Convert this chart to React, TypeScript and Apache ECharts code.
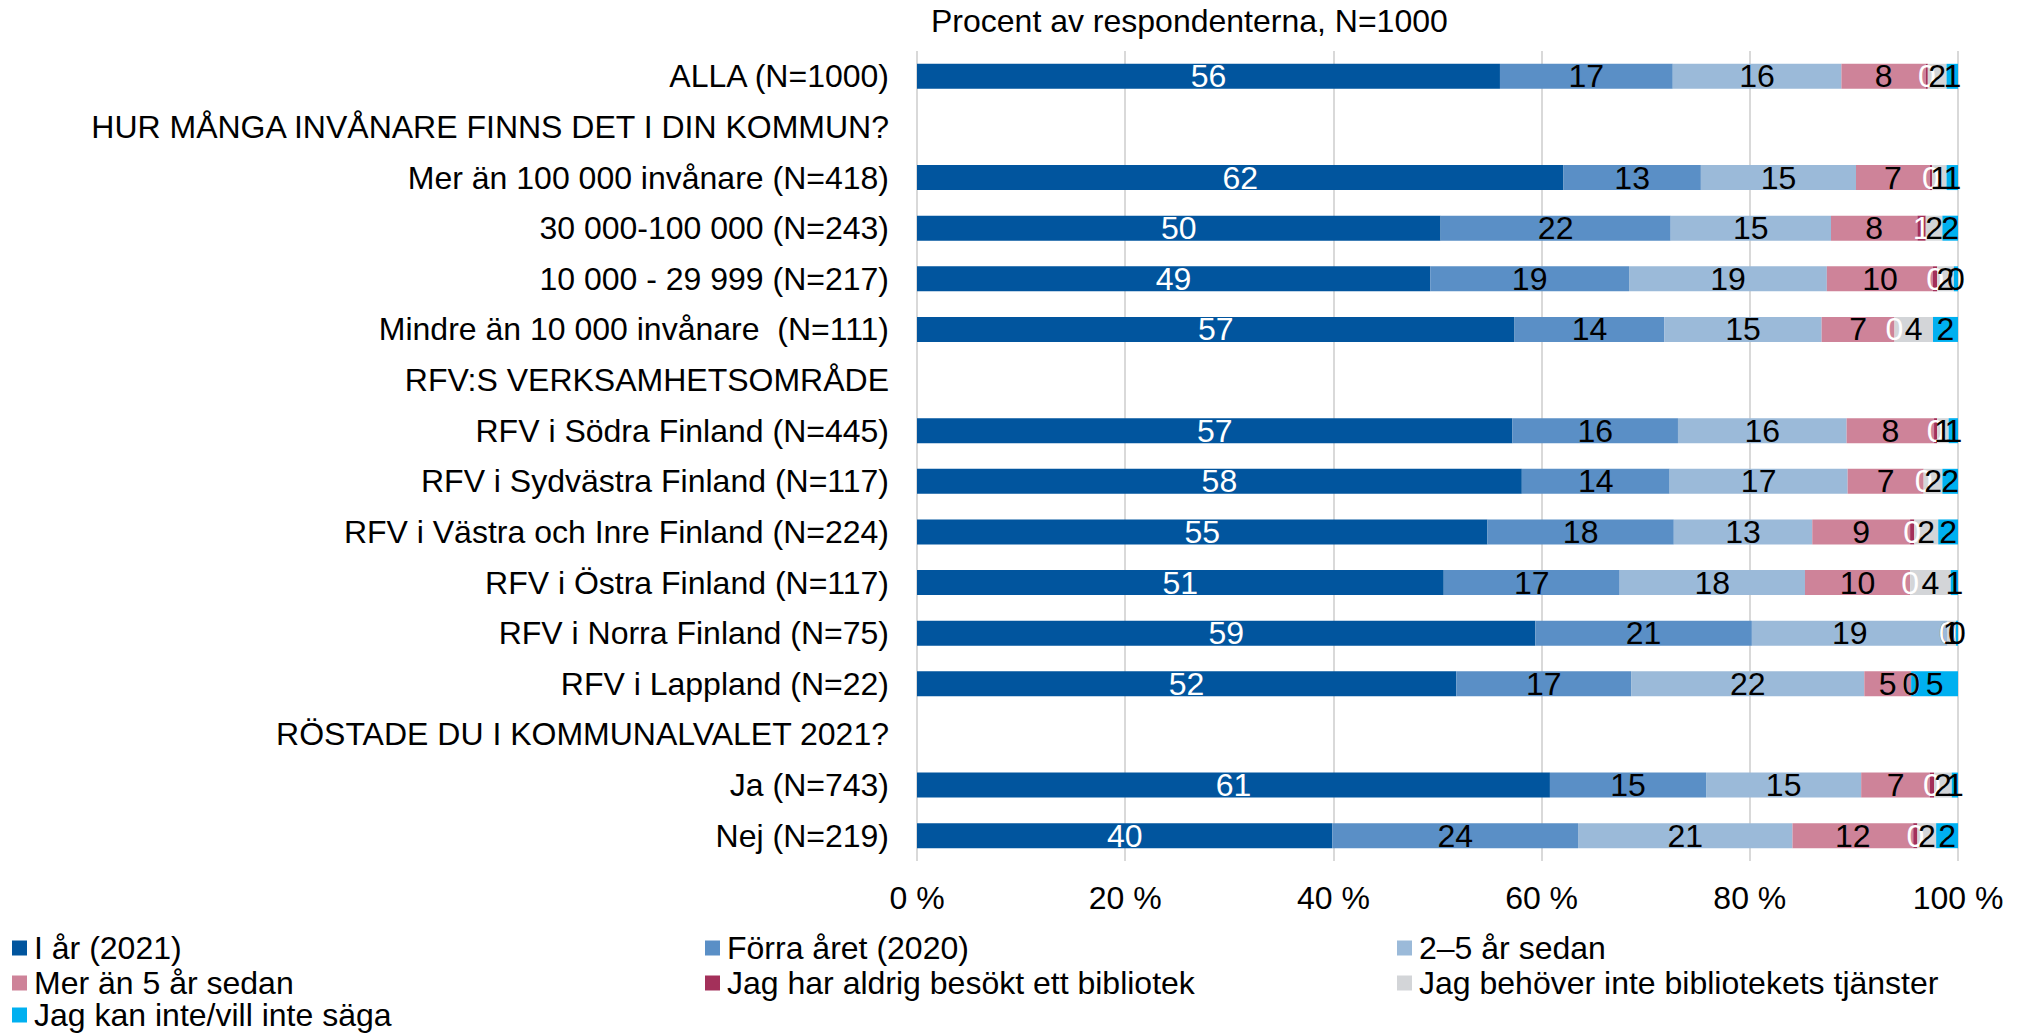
import React, { useEffect, useRef } from "react";
import * as echarts from "echarts";

const categories = [
  "ALLA (N=1000)",
  "HUR MÅNGA INVÅNARE FINNS DET I DIN KOMMUN?",
  "Mer än 100 000 invånare (N=418)",
  "30 000-100 000 (N=243)",
  "10 000 - 29 999 (N=217)",
  "Mindre än 10 000 invånare  (N=111)",
  "RFV:S VERKSAMHETSOMRÅDE",
  "RFV i Södra Finland (N=445)",
  "RFV i Sydvästra Finland (N=117)",
  "RFV i Västra och Inre Finland (N=224)",
  "RFV i Östra Finland (N=117)",
  "RFV i Norra Finland (N=75)",
  "RFV i Lappland (N=22)",
  "RÖSTADE DU I KOMMUNALVALET 2021?",
  "Ja (N=743)",
  "Nej (N=219)",
];

const seriesNames = [
  "I år (2021)",
  "Förra året (2020)",
  "2–5 år sedan",
  "Mer än 5 år sedan",
  "Jag har aldrig besökt ett bibliotek",
  "Jag behöver inte bibliotekets tjänster",
  "Jag kan inte/vill inte säga",
];

const iAr = [56.0, "-", 62.1, 50.3, 49.3, 57.4, "-", 57.2, 58.1, 54.8, 50.6, 59.4, 51.8, "-", 60.8, 39.9];
const forraAret = [16.6, "-", 13.2, 22.1, 19.1, 14.4, "-", 15.9, 14.2, 17.9, 16.9, 20.8, 16.8, "-", 15.0, 23.6];
const tvaFemAr = [16.2, "-", 14.9, 15.4, 19.0, 15.1, "-", 16.2, 17.1, 13.3, 17.8, 18.8, 22.4, "-", 14.9, 20.6];
const merAnFem = [8.1, "-", 7.1, 8.3, 10.2, 7.0, "-", 8.4, 7.3, 9.4, 10.1, 0, 4.5, "-", 6.6, 11.6];
const aldrig = [0.2, "-", 0.2, 0.8, 0.4, 0, "-", 0.3, 0, 0.4, 0, 0, 0, "-", 0.4, 0.4];
const behoverInte = [1.8, "-", 1.4, 1.6, 1.6, 3.7, "-", 1.1, 1.8, 2.3, 3.9, 0.8, 0, "-", 1.7, 1.8];
const kanInte = [1.1, "-", 1.1, 1.5, 0.4, 2.4, "-", 0.9, 1.5, 1.9, 0.7, 0.2, 4.5, "-", 0.6, 2.1];

const seriesData = [iAr, forraAret, tvaFemAr, merAnFem, aldrig, behoverInte, kanInte];
const colors = ["#01559E", "#5A8FC6", "#9BBAD9", "#CE8399", "#A3305A", "#D3D5D8", "#00B0F0"];
const labelColors = ["#FFFFFF", "#000000", "#000000", "#000000", "#FFFFFF", "#000000", "#000000"];

const xTicks = [0, 20, 40, 60, 80, 100];

const FONT = "'Liberation Sans', Arial, sans-serif";
const FS = 32;

// legend slot: [left, top] per series
const legendSlots: [number, number][] = [
  [12, 932],
  [705, 932],
  [1397, 932],
  [12, 967],
  [705, 967],
  [1397, 967],
  [12, 999],
];

export default function App() {
  const ref = useRef<HTMLDivElement>(null);
  useEffect(() => {
    if (!ref.current) return;
    const chart = echarts.init(ref.current, null, { renderer: "svg" });
    chart.setOption({
      animation: false,
      textStyle: { fontFamily: FONT },
      title: {
        text: "Procent av respondenterna, N=1000",
        left: 926,
        top: 0,
        textStyle: { fontSize: FS, fontWeight: "normal", color: "#000", fontFamily: FONT },
      },
      legend: seriesNames.map((n, i) => ({
        left: legendSlots[i][0],
        top: legendSlots[i][1],
        padding: 0,
        itemWidth: 15,
        itemHeight: 15,
        icon: "rect",
        data: [n],
        textStyle: { fontSize: FS, fontFamily: FONT, color: "#000", padding: [0, 0, 0, 2] },
      })),
      grid: { left: 917, right: 59, top: 51, bottom: 172, containLabel: false },
      xAxis: {
        type: "value",
        min: xTicks[0],
        max: xTicks[xTicks.length - 1],
        interval: 20,
        axisLine: { show: false },
        axisTick: { show: false },
        splitLine: { show: true, lineStyle: { color: "#D9D9D9", width: 2 } },
        axisLabel: {
          formatter: "{value} %",
          fontSize: FS,
          color: "#000",
          fontFamily: FONT,
          margin: 21,
        },
      },
      yAxis: {
        type: "category",
        inverse: true,
        data: categories,
        axisLine: { show: false },
        axisTick: { show: false },
        axisLabel: { fontSize: FS, color: "#000", fontFamily: FONT, margin: 28 },
      },
      series: seriesData.map((d, i) => ({
        name: seriesNames[i],
        type: "bar",
        stack: "total",
        data: d,
        barWidth: 25,
        itemStyle: { color: colors[i] },
        label: {
          show: true,
          position: "inside",
          fontSize: FS,
          fontFamily: FONT,
          color: labelColors[i],
          formatter: (p: any) => String(Math.round(p.value)),
        },
      })),
    });
    return () => chart.dispose();
  }, []);
  return (
    <div
      ref={ref}
      style={{ position: "fixed", left: 0, top: 0, width: 2017, height: 1033, background: "#fff" }}
    />
  );
}
